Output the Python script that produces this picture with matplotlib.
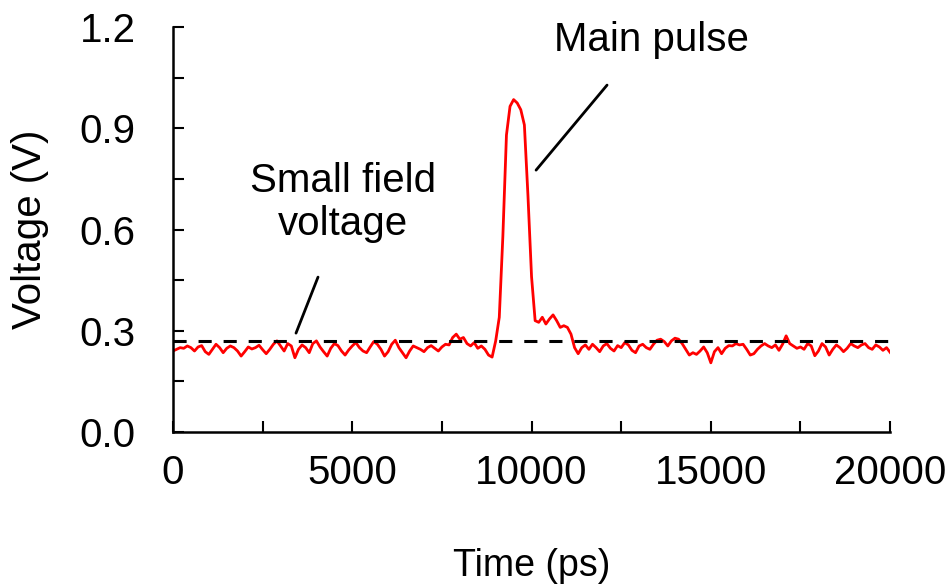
import numpy as np
import matplotlib
matplotlib.use('Agg')
import matplotlib.pyplot as plt
from matplotlib.ticker import MultipleLocator, FormatStrFormatter

plt.rcParams['font.family'] = ['Liberation Sans', 'DejaVu Sans']

# sampled waveform, 100 ps step
time_ps = np.arange(0, 20001, 100)

noise_before = [
    0.24, 0.245, 0.25, 0.248, 0.255, 0.25, 0.24, 0.252, 0.256, 0.238,
    0.23, 0.245, 0.26, 0.25, 0.235, 0.248, 0.255, 0.25, 0.24, 0.225,
    0.238, 0.252, 0.246, 0.25, 0.257, 0.244, 0.232, 0.245, 0.26, 0.27,
    0.255, 0.24, 0.262, 0.255, 0.22,
    0.245, 0.258, 0.25, 0.235, 0.262, 0.27, 0.252, 0.238, 0.225, 0.248,
    0.262, 0.256, 0.24, 0.228, 0.243, 0.255, 0.265, 0.25, 0.24, 0.235,
    0.252, 0.268, 0.26, 0.245, 0.225, 0.238, 0.26, 0.272, 0.25, 0.235,
    0.22, 0.24, 0.255, 0.25, 0.245,
    0.238, 0.25, 0.256, 0.248, 0.24, 0.252, 0.26, 0.258, 0.28, 0.29,
    0.275, 0.28, 0.262, 0.255, 0.265, 0.248, 0.255, 0.245, 0.228, 0.222,
]
pulse = [
    0.27, 0.34, 0.58, 0.88, 0.965, 0.985, 0.975, 0.955, 0.91, 0.70,
    0.46, 0.33, 0.325, 0.34, 0.32, 0.335, 0.347, 0.33, 0.31, 0.315,
    0.31, 0.29, 0.25, 0.232,
]
noise_after = [
    0.25, 0.258, 0.245, 0.26, 0.25, 0.238, 0.255, 0.262, 0.248, 0.24,
    0.256, 0.25, 0.265, 0.258, 0.242, 0.235, 0.255, 0.26, 0.25, 0.245,
    0.26, 0.272, 0.275, 0.268, 0.255, 0.27, 0.278, 0.275, 0.262, 0.245,
    0.228, 0.235, 0.23, 0.24, 0.252, 0.235, 0.205, 0.238, 0.25, 0.232,
    0.248, 0.256, 0.255, 0.262, 0.258, 0.26, 0.245, 0.228, 0.232, 0.245,
    0.255, 0.262, 0.255, 0.25, 0.258, 0.242, 0.26, 0.285, 0.262, 0.255,
    0.248, 0.252, 0.245, 0.262, 0.255, 0.226, 0.24, 0.262, 0.252, 0.228,
    0.245, 0.258, 0.25, 0.238, 0.248, 0.262, 0.255, 0.25, 0.258, 0.262,
    0.25, 0.245, 0.258, 0.252, 0.242, 0.25, 0.236,
]
voltage = np.array(noise_before + pulse + noise_after)

small_field = 0.27

fig = plt.figure(figsize=(9.52, 5.88), dpi=100)
ax = fig.add_axes([0.1817, 0.2653, 0.7533, 0.6887])

ax.plot(time_ps, voltage, color='#ff0000', lw=2.0)
ax.plot([0, 20000], [small_field, small_field], color='black', lw=2.2,
        dashes=(4.3, 3.9))

ax.set_xlim(0, 20000)
ax.set_ylim(0, 1.2)
ax.xaxis.set_major_locator(MultipleLocator(5000))
ax.xaxis.set_minor_locator(MultipleLocator(2500))
ax.yaxis.set_major_locator(MultipleLocator(0.3))
ax.yaxis.set_minor_locator(MultipleLocator(0.15))
ax.yaxis.set_major_formatter(FormatStrFormatter('%.1f'))

for s in ['top', 'right']:
    ax.spines[s].set_visible(False)
for s in ['left', 'bottom']:
    ax.spines[s].set_linewidth(1.8)

ax.tick_params(which='both', direction='in', width=1.5, length=8,
               labelsize=29)
ax.tick_params(axis='x', which='major', pad=16)
ax.tick_params(axis='y', which='major', pad=27)

ax.set_xlabel('Time (ps)', fontsize=27, labelpad=40)
ax.set_ylabel('Voltage (V)', fontsize=29, labelpad=22)

# callout labels with leader lines
ax.text(13333, 1.161, 'Main pulse', fontsize=29, ha='center', va='center')
ax.annotate('', xy=(10126, 0.776), xytext=(12106, 1.028),
            arrowprops=dict(arrowstyle='-', color='black', lw=2,
                            shrinkA=0, shrinkB=0))
ax.text(4742, 0.679, 'Small field\nvoltage', fontsize=29, ha='center',
        va='center', linespacing=1.17)
ax.annotate('', xy=(3431, 0.293), xytext=(4045, 0.459),
            arrowprops=dict(arrowstyle='-', color='black', lw=2,
                            shrinkA=0, shrinkB=0))

fig.savefig('out.png', dpi=100)
